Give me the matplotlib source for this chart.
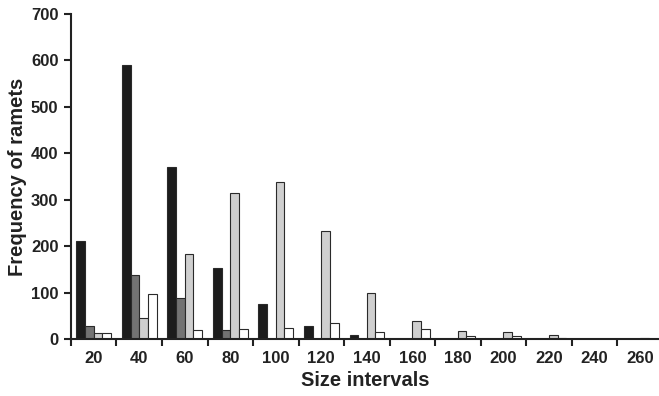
import numpy as np
import matplotlib.pyplot as plt

plt.rcParams['font.family'] = ['Liberation Sans', 'DejaVu Sans']

# size intervals and ramet counts per series
intervals = ['20', '40', '60', '80', '100', '120', '140', '160', '180', '200', '220', '240', '260']
series_a = [212, 591, 370, 153, 75, 29, 8, 0, 0, 0, 0, 0, 0]
series_b = [28, 138, 88, 19, 0, 0, 0, 0, 0, 0, 0, 0, 0]
series_c = [12, 46, 182, 314, 338, 232, 98, 38, 18, 15, 8, 0, 3]
series_d = [12, 96, 19, 21, 23, 34, 15, 21, 6, 7, 3, 0, 0]

colors = ['#1c1c1c', '#737373', '#cfcfcf', '#ffffff']

fig = plt.figure(figsize=(6.59, 3.96), dpi=100)
ax = fig.add_axes([0.1077, 0.144, 0.8923, 0.8207])

x = np.arange(len(intervals))
w = 0.19
for i, vals in enumerate([series_a, series_b, series_c, series_d]):
    ax.bar(x + (i - 1.5) * w, vals, width=w, color=colors[i],
           edgecolor='#2a2a2a', linewidth=0.8, zorder=2)

ax.set_xlim(-0.5, 12.42)
ax.set_ylim(0, 700)
ax.set_yticks(np.arange(0, 701, 100))

ax.set_xticks(x)
ax.set_xticklabels(intervals, fontsize=12, fontweight='bold', color='#222222')
ax.set_xticks(np.arange(-0.5, 12.5, 1), minor=True)
ax.tick_params(axis='x', which='major', length=0, pad=9)
ax.tick_params(axis='x', which='minor', length=5, width=1.5, direction='out', color='#222222')
ax.tick_params(axis='y', length=5, width=1.5, direction='out', color='#222222', pad=4)
for lab in ax.get_yticklabels():
    lab.set_fontsize(12)
    lab.set_fontweight('bold')
    lab.set_color('#222222')

for s in ['top', 'right']:
    ax.spines[s].set_visible(False)
for s in ['left', 'bottom']:
    ax.spines[s].set_linewidth(1.5)
    ax.spines[s].set_color('#222222')

ax.set_xlabel('Size intervals', fontsize=14.5, fontweight='bold', color='#222222', labelpad=3)
ax.set_ylabel('Frequency of ramets', fontsize=14.5, fontweight='bold', color='#222222', labelpad=3)

fig.savefig('out.png', dpi=100)
